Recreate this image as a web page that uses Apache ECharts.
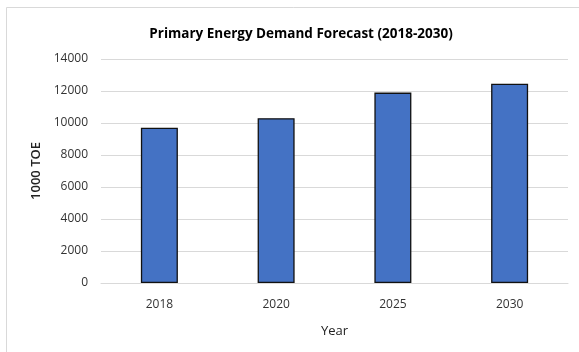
<!DOCTYPE html>
<html>
<head>
<meta charset="utf-8">
<script src="https://cdn.jsdelivr.net/npm/echarts@6/dist/echarts.min.js"></script>
<style>
  html, body { margin: 0; padding: 0; background: #fff; }
  #chart { width: 579px; height: 352px; }
</style>
</head>
<body>
<div id="chart"></div>
<script>
// Datos del gráfico
const years = ['2018', '2020', '2025', '2030'];
const demand = [9700, 10300, 11900, 12450];
const yTicks = [0, 2000, 4000, 6000, 8000, 10000, 12000, 14000];

const chart = echarts.init(document.getElementById('chart'));
const font = '"Open Sans", sans-serif';

const option = {
  animation: false,
  backgroundColor: '#fff',
  graphic: [
    {
      type: 'rect',
      shape: { x: 6.5, y: 7.5, width: 620, height: 400 },
      style: { fill: 'none', stroke: '#d9d9d9', lineWidth: 1 },
      silent: true,
    },
  ],
  title: {
    text: 'Primary Energy Demand Forecast (2018-2030)',
    left: 296,
    top: 22,
    textAlign: 'center',
    textStyle: { fontFamily: font, fontSize: 13.5, fontWeight: 'bold', color: '#000' },
  },
  grid: { left: 101, right: 11, top: 59, bottom: 69 },
  xAxis: {
    type: 'category',
    data: years,
    name: 'Year',
    nameLocation: 'middle',
    nameGap: 42,
    nameTextStyle: { fontFamily: font, fontSize: 13, color: '#222' },
    axisLine: { lineStyle: { color: '#d9d9d9' } },
    axisTick: { show: false },
    axisLabel: { fontFamily: font, fontSize: 12, color: '#333', margin: 16 },
  },
  yAxis: {
    type: 'value',
    min: yTicks[0],
    max: yTicks[yTicks.length - 1],
    interval: 2000,
    name: '1000 TOE',
    nameLocation: 'middle',
    nameGap: 55,
    nameTextStyle: { fontFamily: font, fontSize: 13, fontWeight: 600, color: '#222' },
    axisLine: { show: false },
    axisTick: { show: false },
    axisLabel: { fontFamily: font, fontSize: 12, color: '#333', margin: 13, formatter: (v) => String(v) },
    splitLine: { lineStyle: { color: '#d9d9d9', width: 1 } },
  },
  series: [
    {
      type: 'bar',
      data: demand,
      barWidth: 37,
      itemStyle: { color: '#4472c4', borderColor: '#111', borderWidth: 1.3 },
    },
  ],
};

chart.setOption(option);
</script>
</body>
</html>
